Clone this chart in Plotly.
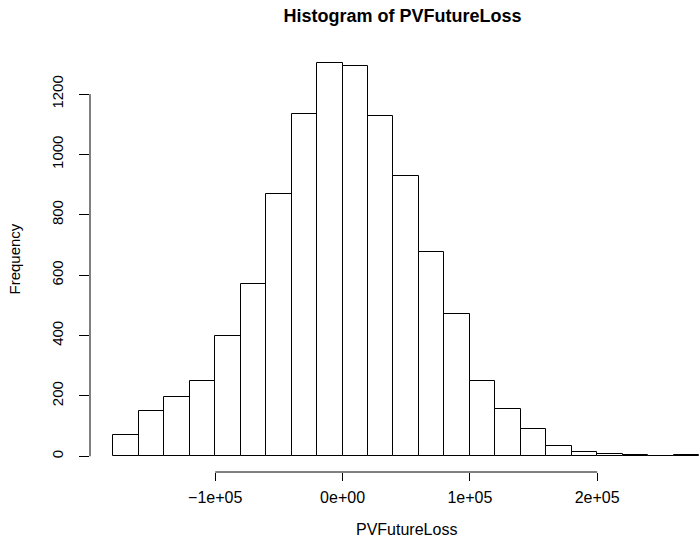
import plotly.graph_objects as go

# Histogram bins (width 20000) and counts
bin_start = -180000
bin_width = 20000
counts = [71, 150, 198, 251, 398, 572, 868, 1135, 1304, 1293, 1129, 929,
          677, 473, 250, 156, 91, 34, 14, 8, 5, 2, 3]
x_tickvals = [-100000, 0, 100000, 200000]
x_ticktext = ["\u22121e+05", "0e+00", "1e+05", "2e+05"]
y_tickvals = [0, 200, 400, 600, 800, 1000, 1200]
y_ticktext = ["0", "200", "400", "600", "800", "1000", "1200"]

centers = [bin_start + bin_width * (i + 0.5) for i in range(len(counts))]

FONT = "Liberation Sans, Arial, Helvetica, sans-serif"

fig = go.Figure()
fig.add_trace(go.Bar(
    x=centers, y=counts, width=bin_width,
    marker=dict(color="white", line=dict(color="black", width=1)),
    showlegend=False, hoverinfo="x+y",
))

ymax = max(counts)
xlo, xhi = bin_start, bin_start + bin_width * len(counts)
pad_x = 0.04 * (xhi - xlo)

fig.update_layout(
    width=699, height=537,
    margin=dict(l=90, r=0, t=47, b=65),
    plot_bgcolor="white", paper_bgcolor="white",
    font=dict(family=FONT, size=16, color="black"),
    bargap=0,
    title=dict(text="<b>Histogram of PVFutureLoss</b>", x=402.5 / 699, xref="container",
               xanchor="center", y=1 - 15.7 / 537, yref="container", yanchor="middle",
               font=dict(family=FONT, size=18, color="black")),
    xaxis=dict(range=[xlo - pad_x, xhi], showgrid=False, zeroline=False, showline=False,
               tickmode="array", tickvals=x_tickvals, ticktext=x_ticktext,
               ticks="outside", ticklen=8, tickwidth=1, tickcolor="black",
               ticklabelstandoff=3,
               tickfont=dict(family=FONT, size=16, color="black")),
    yaxis=dict(range=[-0.04 * ymax, 1.04 * ymax], showgrid=False, zeroline=False, showline=False,
               tickmode="array", tickvals=y_tickvals, ticktext=y_ticktext,
               ticks="outside", ticklen=10, tickwidth=1, tickcolor="black",
               tickangle=-90, ticklabelstandoff=10,
               tickfont=dict(family=FONT, size=15, color="black")),
)

# R-style axis lines spanning only first to last tick
fig.add_shape(type="line", xref="x", yref="paper", x0=x_tickvals[0], x1=x_tickvals[-1],
              y0=0, y1=0, line=dict(color="black", width=1))
fig.add_shape(type="line", xref="paper", yref="y", x0=0, x1=0,
              y0=y_tickvals[0], y1=y_tickvals[-1], line=dict(color="black", width=1))

fig.add_annotation(text="PVFutureLoss", xref="paper", yref="paper",
                   x=(406 - 90) / 609, y=-(529 - 472) / 425, xanchor="center", yanchor="middle",
                   showarrow=False, font=dict(family=FONT, size=16, color="black"))
fig.add_annotation(text="Frequency", xref="paper", yref="paper",
                   x=-(90 - 14) / 609, y=0.5, xanchor="center", yanchor="middle",
                   textangle=-90, showarrow=False, font=dict(family=FONT, size=15, color="black"))

fig.write_html("out.html",
               config={"displayModeBar": False},
               post_script="document.body.style.margin='0';document.body.style.padding='0';"
                           "document.body.style.overflow='hidden';")
